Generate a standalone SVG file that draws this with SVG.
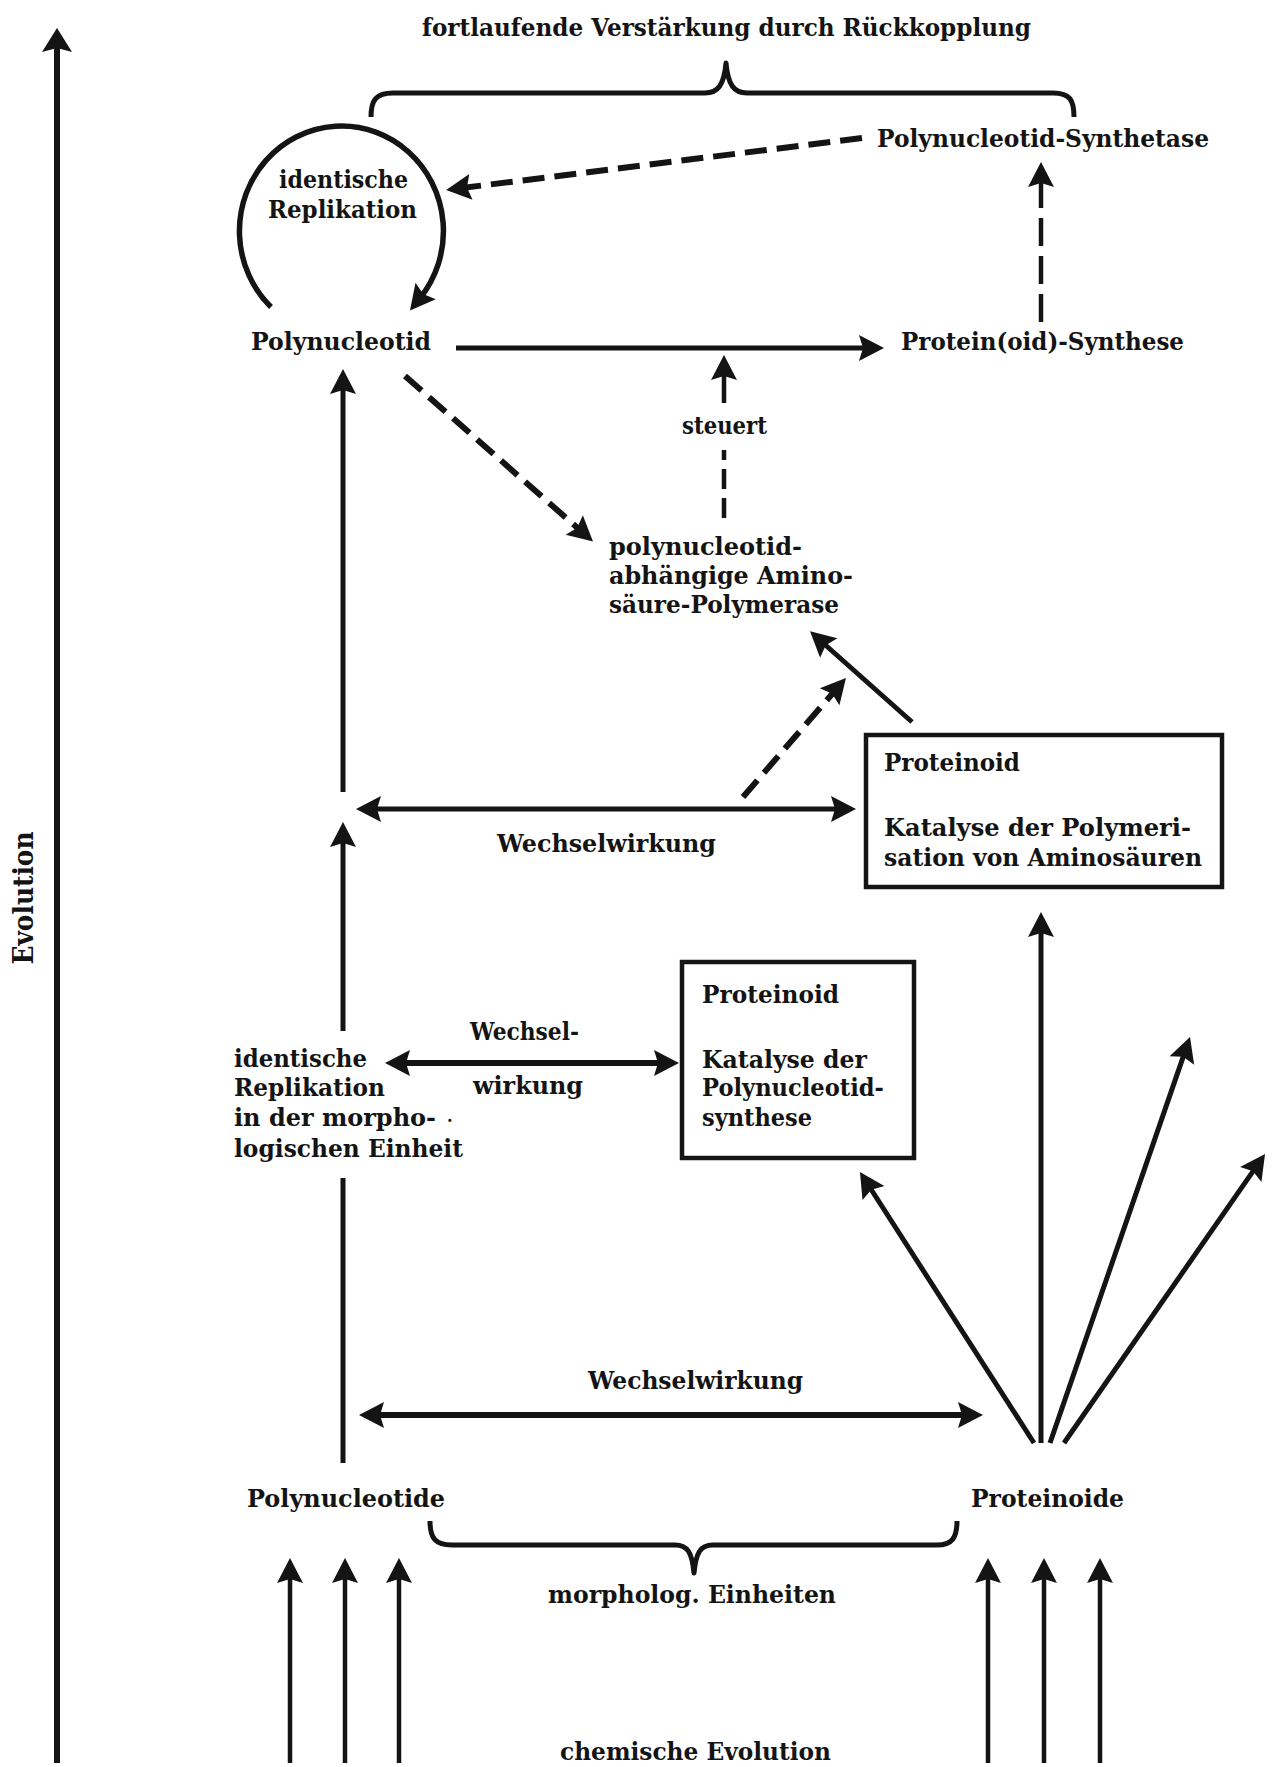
<svg xmlns="http://www.w3.org/2000/svg" width="1272" height="1767" viewBox="0 0 1272 1767">
<style>
  text { font-family: "DejaVu Serif", "Liberation Serif", serif; font-size: 24px; font-weight: bold; fill: #141414; }
  .ln { fill: none; stroke: #141414; stroke-width: 5; }
  .thin { fill: none; stroke: #141414; stroke-width: 4.5; }
  .dash { fill: none; stroke: #141414; stroke-width: 6; stroke-dasharray: 22 10; }
  .dashv { fill: none; stroke: #141414; stroke-width: 4.5; stroke-dasharray: 28 10; }
  .box { fill: none; stroke: #141414; stroke-width: 4.5; }
  .br { fill: none; stroke: #141414; stroke-width: 5; stroke-linejoin: round; }
</style>
<defs>
  <marker id="ah" markerUnits="userSpaceOnUse" viewBox="-12 -16 32 32" markerWidth="32" markerHeight="32" refX="0" refY="0" orient="auto-start-reverse" overflow="visible">
    <path d="M16,0 L-9,-13 L-5,0 L-9,13 Z" fill="#141414"/>
  </marker>
  <marker id="ahb" markerUnits="userSpaceOnUse" viewBox="-12 -18 36 36" markerWidth="36" markerHeight="36" refX="0" refY="0" orient="auto" overflow="visible">
    <path d="M18,0 L-6,-15 L-2,0 L-6,15 Z" fill="#141414"/>
  </marker>
</defs>
<rect width="1272" height="1767" fill="#ffffff"/>

<g id="connectors">
  <!-- Evolution axis -->
  <line class="ln" style="stroke-width:6" x1="57" y1="1763" x2="57" y2="46" marker-end="url(#ahb)"/>
  <!-- top brace -->
  <path class="br" d="M371,117 C371,100 376,93 393,93 L705,93 C718,93 724,85 726,63 C728,85 734,93 747,93 L1053,93 C1070,93 1074,100 1074,117"/>
  <!-- Synthetase -> identische Replikation (dashed) -->
  <line class="dash" x1="862" y1="138" x2="462" y2="188" marker-end="url(#ah)"/>
  <!-- replication loop -->
  <path class="ln" style="stroke-width:5.5" d="M271,307 A102,105 0 1 1 420,298" marker-end="url(#ah)"/>
  <!-- Polynucleotid -> Protein(oid)-Synthese -->
  <line class="ln" x1="456" y1="348" x2="868" y2="348" marker-end="url(#ah)"/>
  <!-- Protein(oid)-Synthese -> Synthetase (dashed) -->
  <line class="dashv" x1="1041" y1="322" x2="1041" y2="178" marker-end="url(#ah)"/>
  <!-- steuert -->
  <line class="thin" style="stroke-dasharray:20 9" x1="724" y1="518" x2="724" y2="450"/>
  <line class="thin" x1="724" y1="403" x2="724" y2="371" marker-end="url(#ah)"/>
  <!-- Polynucleotid -> Polymerase (dashed) -->
  <line class="dash" x1="405" y1="376" x2="581" y2="531" marker-end="url(#ah)"/>
  <!-- Proteinoid box1 -> Polymerase -->
  <line class="ln" x1="912" y1="722" x2="822" y2="642" marker-end="url(#ah)"/>
  <!-- Wechselwirkung -> Polymerase (dashed) -->
  <line class="dash" x1="743" y1="797" x2="835.5" y2="690" marker-end="url(#ah)"/>
  <!-- left vertical upper -->
  <line class="ln" x1="343" y1="792" x2="343" y2="385" marker-end="url(#ah)"/>
  <!-- Wechselwirkung mid double -->
  <line class="ln" x1="372" y1="809" x2="840" y2="809" marker-start="url(#ah)" marker-end="url(#ah)"/>
  <!-- left vertical lower -->
  <line class="ln" x1="343" y1="1031" x2="343" y2="838" marker-end="url(#ah)"/>
  <line class="ln" x1="343" y1="1463" x2="343" y2="1178"/>
  <!-- Wechsel-wirkung double -->
  <line class="ln" style="stroke-width:6" x1="401" y1="1063" x2="663" y2="1063" marker-start="url(#ah)" marker-end="url(#ah)"/>
  <!-- fan from Proteinoide -->
  <line class="ln" x1="1041" y1="1443" x2="1041" y2="928" marker-end="url(#ah)"/>
  <line class="ln" x1="1034" y1="1443" x2="868.6" y2="1185.5" marker-end="url(#ah)"/>
  <line class="ln" x1="1050" y1="1443" x2="1184.8" y2="1052.1" marker-end="url(#ah)"/>
  <line class="ln" x1="1064" y1="1443" x2="1255.9" y2="1167.1" marker-end="url(#ah)"/>
  <!-- bottom Wechselwirkung double -->
  <line class="ln" style="stroke-width:6" x1="375" y1="1415" x2="967" y2="1415" marker-start="url(#ah)" marker-end="url(#ah)"/>
  <!-- bottom brace -->
  <path class="br" d="M430,1521 C430,1538 435,1545 452,1545 L675,1545 C688,1545 692,1553 694,1573 C696,1553 700,1545 713,1545 L937,1545 C952,1545 957,1538 957,1521"/>
  <!-- chemical evolution arrows -->
  <line class="thin" x1="290" y1="1763" x2="290" y2="1574" marker-end="url(#ah)"/>
  <line class="thin" x1="345" y1="1763" x2="345" y2="1574" marker-end="url(#ah)"/>
  <line class="thin" x1="399" y1="1763" x2="399" y2="1574" marker-end="url(#ah)"/>
  <line class="thin" x1="988" y1="1763" x2="988" y2="1574" marker-end="url(#ah)"/>
  <line class="thin" x1="1044" y1="1763" x2="1044" y2="1574" marker-end="url(#ah)"/>
  <line class="thin" x1="1100" y1="1763" x2="1100" y2="1574" marker-end="url(#ah)"/>
</g>

<g id="label-evolution">
  <text transform="translate(33,898) rotate(-90)" text-anchor="middle" style="font-size:28px" textLength="133" lengthAdjust="spacingAndGlyphs">Evolution</text>
</g>
<g id="label-feedback">
  <text x="422" y="36" textLength="609" lengthAdjust="spacingAndGlyphs">fortlaufende Verstärkung durch Rückkopplung</text>
</g>
<g id="node-replication-loop">
  <text x="279" y="188" textLength="129" lengthAdjust="spacingAndGlyphs">identische</text>
  <text x="268" y="218" textLength="149" lengthAdjust="spacingAndGlyphs">Replikation</text>
</g>
<g id="node-synthetase">
  <text x="877" y="147" textLength="332" lengthAdjust="spacingAndGlyphs">Polynucleotid-Synthetase</text>
</g>
<g id="node-polynucleotid">
  <text x="251" y="350" textLength="180" lengthAdjust="spacingAndGlyphs">Polynucleotid</text>
</g>
<g id="node-protein-synthese">
  <text x="901" y="350" textLength="283" lengthAdjust="spacingAndGlyphs">Protein(oid)-Synthese</text>
</g>
<g id="label-steuert">
  <text x="682" y="434" textLength="85" lengthAdjust="spacingAndGlyphs">steuert</text>
</g>
<g id="node-polymerase">
  <text x="609" y="555" textLength="193" lengthAdjust="spacingAndGlyphs">polynucleotid-</text>
  <text x="609" y="584" textLength="244" lengthAdjust="spacingAndGlyphs">abhängige Amino-</text>
  <text x="609" y="613" textLength="230" lengthAdjust="spacingAndGlyphs">säure-Polymerase</text>
</g>
<g id="label-wechselwirkung-1">
  <text x="497" y="852" textLength="219" lengthAdjust="spacingAndGlyphs">Wechselwirkung</text>
</g>
<g id="node-proteinoid-1">
  <rect class="box" x="866" y="735" width="356" height="152"/>
  <text x="884" y="771" textLength="136" lengthAdjust="spacingAndGlyphs">Proteinoid</text>
  <text x="884" y="836" textLength="307" lengthAdjust="spacingAndGlyphs">Katalyse der Polymeri-</text>
  <text x="884" y="866" textLength="318" lengthAdjust="spacingAndGlyphs">sation von Aminosäuren</text>
</g>
<g id="node-proteinoid-2">
  <rect class="box" x="682" y="962" width="232" height="196"/>
  <text x="702" y="1003" textLength="137" lengthAdjust="spacingAndGlyphs">Proteinoid</text>
  <text x="702" y="1068" textLength="165" lengthAdjust="spacingAndGlyphs">Katalyse der</text>
  <text x="702" y="1096" textLength="182" lengthAdjust="spacingAndGlyphs">Polynucleotid-</text>
  <text x="702" y="1126" textLength="110" lengthAdjust="spacingAndGlyphs">synthese</text>
</g>
<g id="label-wechselwirkung-2">
  <text x="470" y="1040" textLength="109" lengthAdjust="spacingAndGlyphs">Wechsel-</text>
  <text x="473" y="1094" textLength="110" lengthAdjust="spacingAndGlyphs">wirkung</text>
</g>
<g id="node-replication-unit">
  <text x="234" y="1067" textLength="133" lengthAdjust="spacingAndGlyphs">identische</text>
  <text x="234" y="1096" textLength="151" lengthAdjust="spacingAndGlyphs">Replikation</text>
  <text x="234" y="1126" textLength="202" lengthAdjust="spacingAndGlyphs">in der morpho-</text>
  <text x="446" y="1122" style="font-weight:normal">.</text>
  <text x="234" y="1157" textLength="229" lengthAdjust="spacingAndGlyphs">logischen Einheit</text>
</g>
<g id="label-wechselwirkung-3">
  <text x="588" y="1389" textLength="215" lengthAdjust="spacingAndGlyphs">Wechselwirkung</text>
</g>
<g id="node-polynucleotide">
  <text x="247" y="1507" textLength="198" lengthAdjust="spacingAndGlyphs">Polynucleotide</text>
</g>
<g id="node-proteinoide">
  <text x="971" y="1507" textLength="153" lengthAdjust="spacingAndGlyphs">Proteinoide</text>
</g>
<g id="label-morpholog">
  <text x="548" y="1603" textLength="288" lengthAdjust="spacingAndGlyphs">morpholog. Einheiten</text>
</g>
<g id="label-chemische">
  <text x="560" y="1760" textLength="271" lengthAdjust="spacingAndGlyphs">chemische Evolution</text>
</g>
</svg>
